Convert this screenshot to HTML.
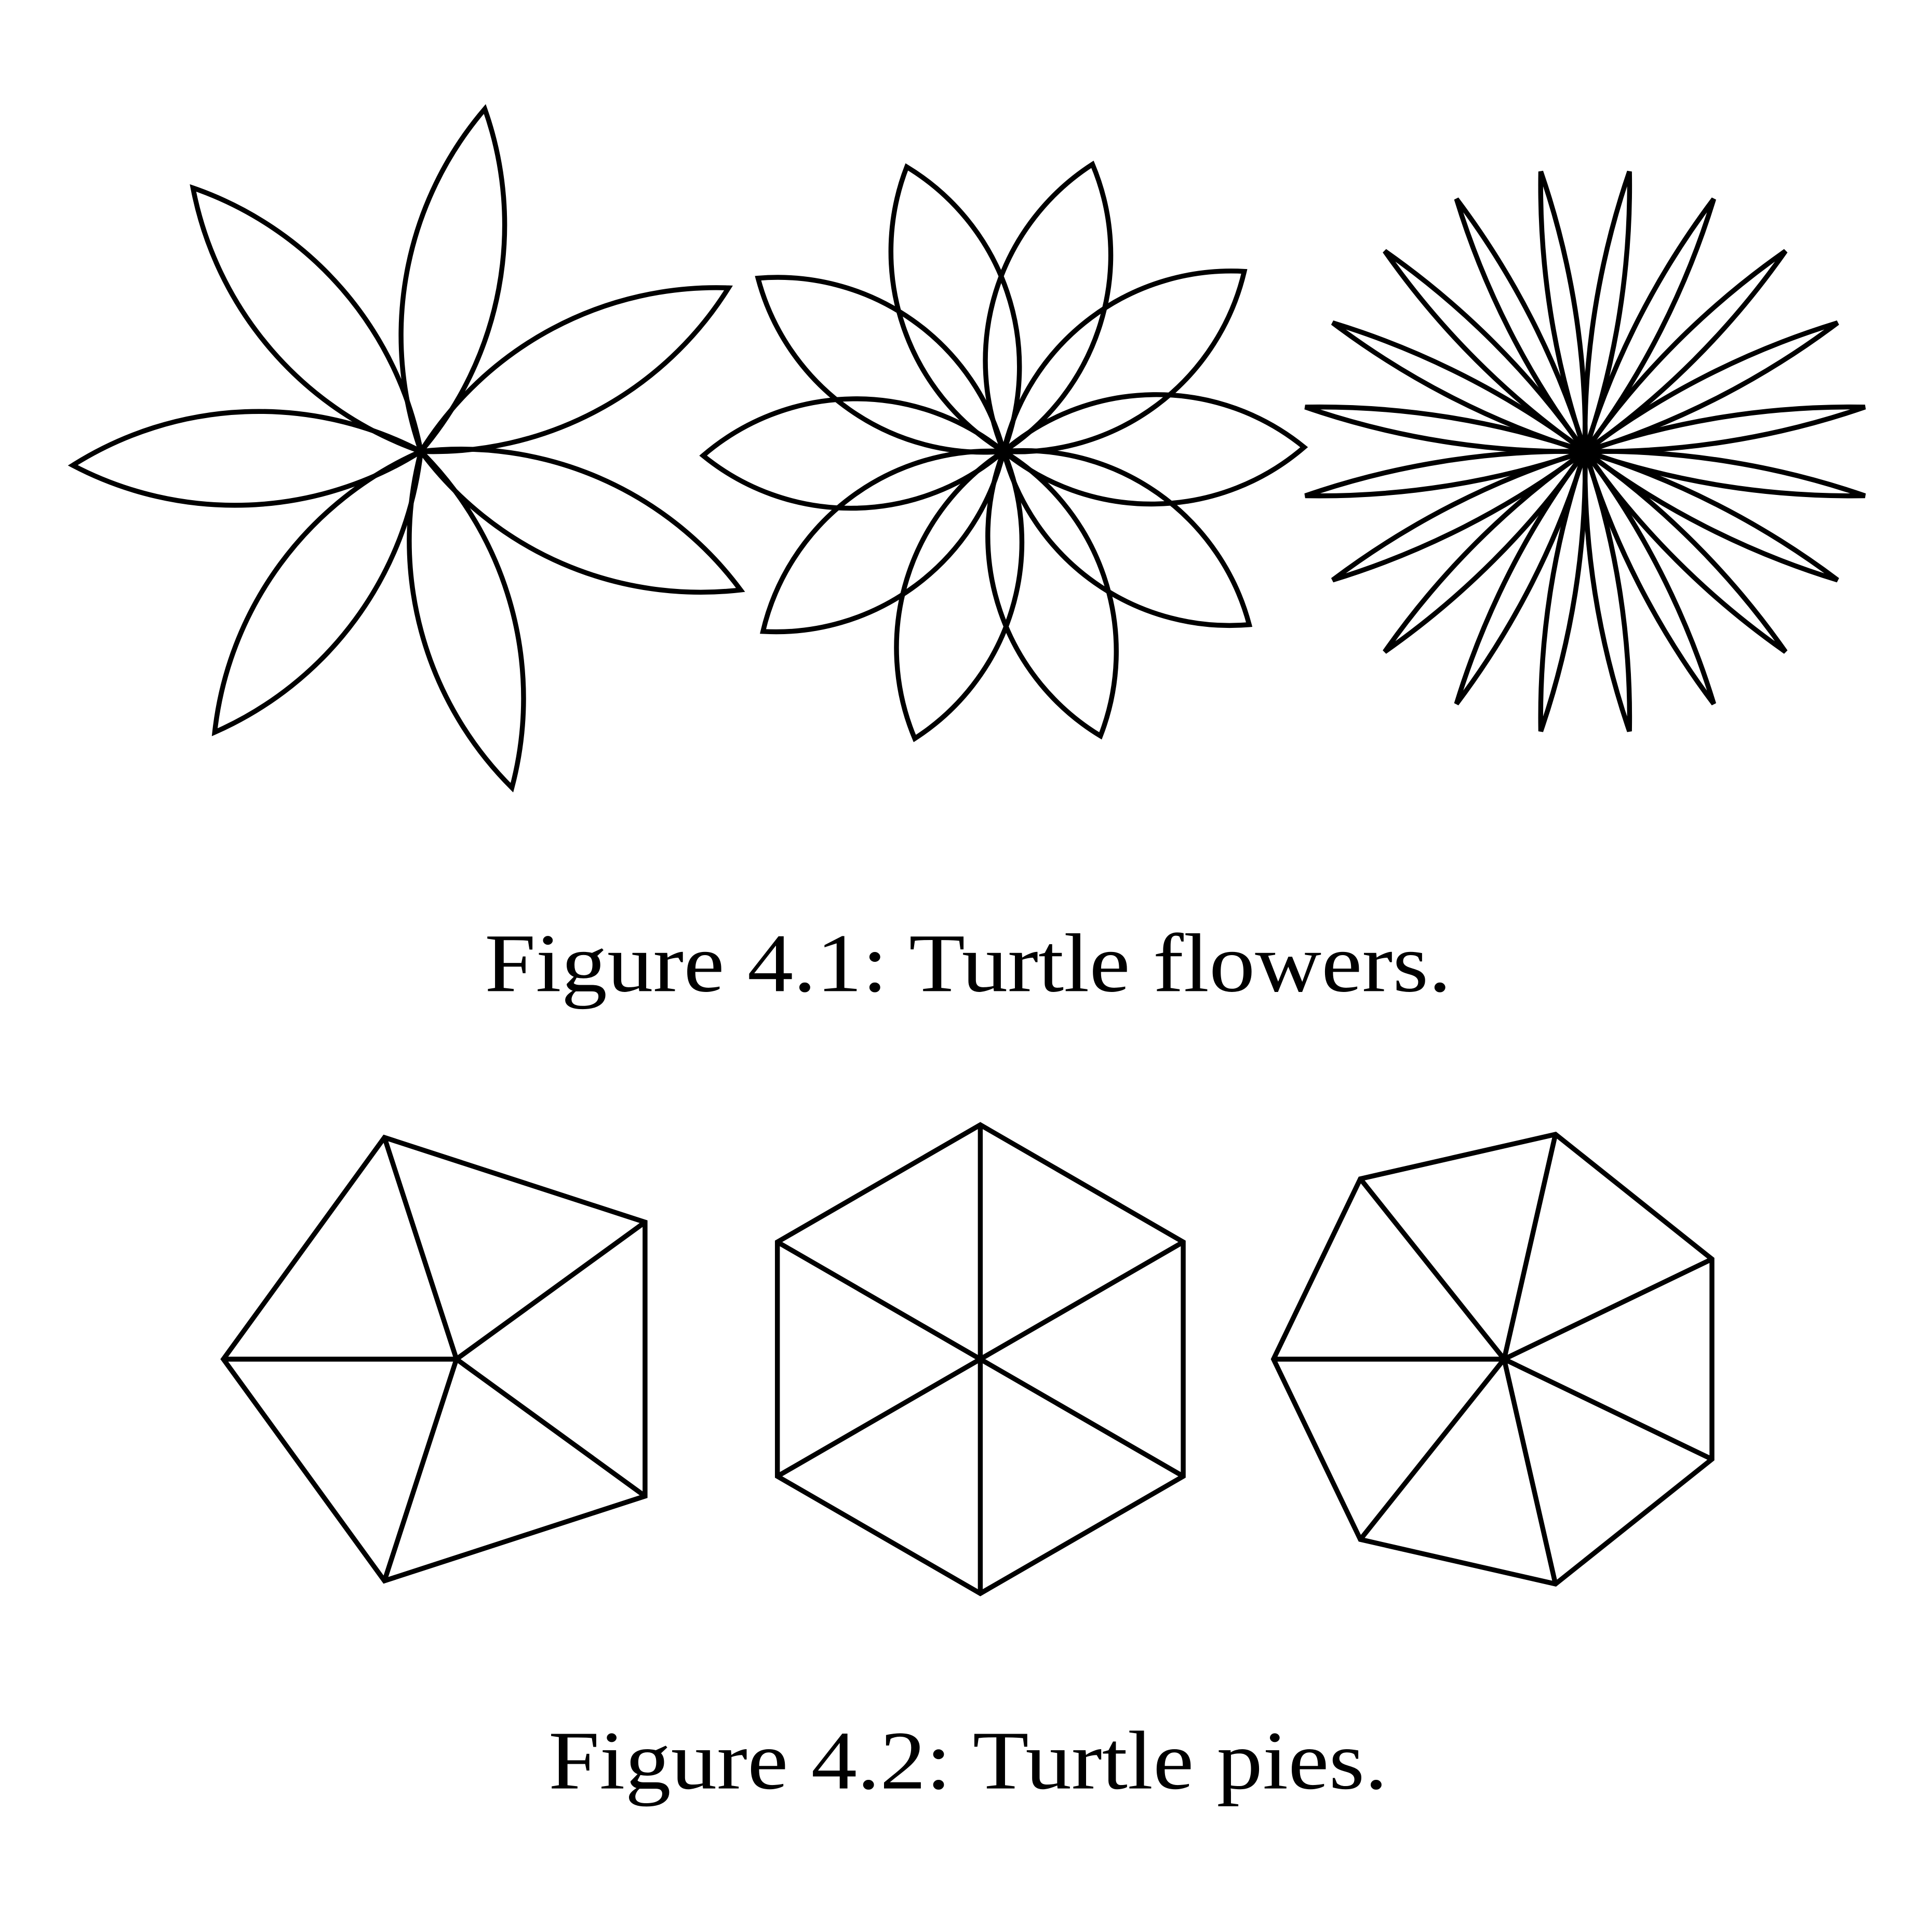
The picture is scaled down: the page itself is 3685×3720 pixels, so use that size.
<!DOCTYPE html>
<html><head><meta charset="utf-8"><style>
html,body{margin:0;padding:0;background:#fff;}
svg{display:block;}
</style></head><body>
<svg id="fig" width="3685" height="3720" viewBox="0 0 1560 1575" xmlns="http://www.w3.org/2000/svg">
<g id="flowers" fill="none" stroke="#000" stroke-width="4" stroke-linejoin="miter"></g>
<g id="pies" fill="none" stroke="#000" stroke-width="4" stroke-linejoin="miter"></g>
<text x="395" y="808" textLength="788" lengthAdjust="spacingAndGlyphs" font-family="'Liberation Serif', serif" font-size="68">Figure 4.1: Turtle flowers.</text>
<text x="447" y="1458" textLength="684" lengthAdjust="spacingAndGlyphs" font-family="'Liberation Serif', serif" font-size="68">Figure 4.2: Turtle pies.</text>
</svg>
<script>
const flowerPetals = [7, 10, 20];
const flowerArcAngles = [60, 80, 20];
const flowerChords = [284, 245, 231];
const flowerStartAngles = [28, 0.8, 9];
const flowerCentersX = [343, 818, 1292];
const flowerCentersY = [368, 368, 368];

const pieSides = [5, 6, 7];
const pieRadii = [190, 191, 188];
const pieStartAngles = [180, 90, 180];
const pieCentersX = [372, 799, 1226];
const pieCentersY = [1108, 1108, 1108];

const NS = 'http://www.w3.org/2000/svg';
const fg = document.getElementById('flowers');
for (let f = 0; f < flowerPetals.length; f++) {
  const n = flowerPetals[f], a = flowerArcAngles[f] * Math.PI / 180, c = flowerChords[f];
  const R = c / (2 * Math.sin(a / 2));
  const cx = flowerCentersX[f], cy = flowerCentersY[f];
  const g = document.createElementNS(NS, 'g');
  
  
  for (let k = 0; k < n; k++) {
    const ang = (flowerStartAngles[f] + k * 360 / n) * Math.PI / 180;
    const tx = cx + c * Math.cos(ang), ty = cy - c * Math.sin(ang);
    const p = document.createElementNS(NS, 'path');
    p.setAttribute('d', `M${cx},${cy} A${R},${R} 0 0 0 ${tx},${ty} A${R},${R} 0 0 0 ${cx},${cy}`);
    
    
    g.appendChild(p);
  }
  fg.appendChild(g);
}
const pg = document.getElementById('pies');
for (let q = 0; q < pieSides.length; q++) {
  const n = pieSides[q], r = pieRadii[q], cx = pieCentersX[q], cy = pieCentersY[q];
  const pts = [];
  for (let k = 0; k < n; k++) {
    const ang = (pieStartAngles[q] + k * 360 / n) * Math.PI / 180;
    pts.push([cx + r * Math.cos(ang), cy - r * Math.sin(ang)]);
  }
  let d = 'M' + pts.map(p => p.join(',')).join(' L') + ' Z';
  pts.forEach(p => { d += ` M${cx},${cy} L${p[0]},${p[1]}`; });
  const path = document.createElementNS(NS, 'path');
  path.setAttribute('d', d);
  
  
  pg.appendChild(path);
}
</script>
</body></html>
